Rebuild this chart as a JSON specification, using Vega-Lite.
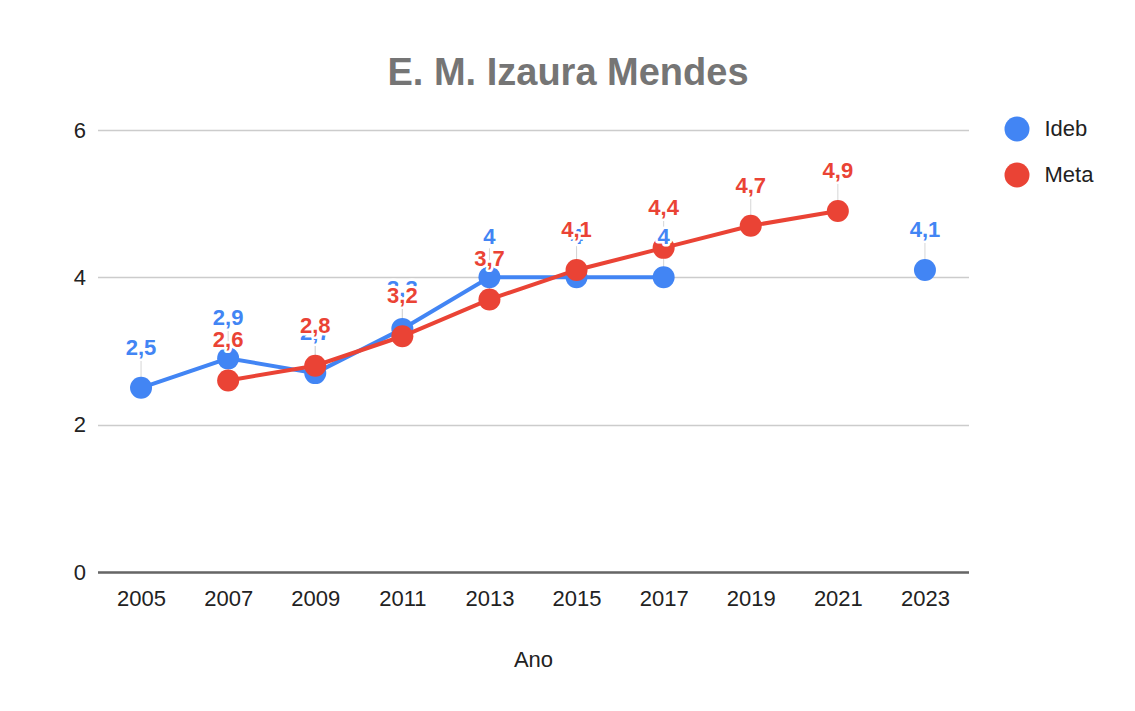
{
  "$schema": "https://vega.github.io/schema/vega-lite/v6.json",
  "width": 871,
  "height": 442,
  "autosize": {"type": "none"},
  "padding": {"left": 97.5, "top": 130, "right": 166.5, "bottom": 139},
  "background": "white",
  "title": {
    "text": "E. M. Izaura Mendes",
    "fontSize": 38,
    "fontWeight": "bold",
    "color": "#757575",
    "anchor": "middle",
    "frame": "group",
    "baseline": "alphabetic",
    "dx": 35,
    "offset": -6
  },
  "config": {
    "font": "Liberation Sans",
    "view": {"stroke": null},
    "locale": {
      "number": {"decimal": ",", "thousands": ".", "grouping": [3], "currency": ["R$", ""]}
    }
  },
  "data": {
    "values": [
      {"ano": "2005", "serie": "Ideb", "valor": 2.5},
      {"ano": "2007", "serie": "Ideb", "valor": 2.9},
      {"ano": "2009", "serie": "Ideb", "valor": 2.7},
      {"ano": "2011", "serie": "Ideb", "valor": 3.3},
      {"ano": "2013", "serie": "Ideb", "valor": 4},
      {"ano": "2015", "serie": "Ideb", "valor": 4},
      {"ano": "2017", "serie": "Ideb", "valor": 4},
      {"ano": "2019", "serie": "Ideb", "valor": null},
      {"ano": "2021", "serie": "Ideb", "valor": null},
      {"ano": "2023", "serie": "Ideb", "valor": 4.1},
      {"ano": "2007", "serie": "Meta", "valor": 2.6},
      {"ano": "2009", "serie": "Meta", "valor": 2.8},
      {"ano": "2011", "serie": "Meta", "valor": 3.2},
      {"ano": "2013", "serie": "Meta", "valor": 3.7},
      {"ano": "2015", "serie": "Meta", "valor": 4.1},
      {"ano": "2017", "serie": "Meta", "valor": 4.4},
      {"ano": "2019", "serie": "Meta", "valor": 4.7},
      {"ano": "2021", "serie": "Meta", "valor": 4.9}
    ]
  },
  "encoding": {
    "x": {
      "field": "ano",
      "type": "ordinal",
      "title": "Ano",
      "scale": {
        "type": "point",
        "padding": 0.5,
        "domain": ["2005", "2007", "2009", "2011", "2013", "2015", "2017", "2019", "2021", "2023"]
      },
      "axis": {
        "labelAngle": 0,
        "labelFontSize": 22,
        "labelColor": "#222222",
        "labelPadding": 16,
        "ticks": false,
        "domain": true,
        "domainColor": "#666666",
        "domainWidth": 2.5,
        "grid": false,
        "titleFontSize": 22,
        "titleFontWeight": "normal",
        "titleColor": "#222222",
        "titlePadding": 40
      }
    },
    "y": {
      "field": "valor",
      "type": "quantitative",
      "title": null,
      "scale": {"domain": [0, 6], "nice": false, "zero": true},
      "axis": {
        "values": [0, 2, 4, 6],
        "format": "d",
        "labelFontSize": 22,
        "labelColor": "#222222",
        "labelPadding": 12,
        "ticks": false,
        "domain": false,
        "grid": true,
        "gridColor": "#cccccc",
        "gridWidth": 1.5
      }
    },
    "color": {
      "field": "serie",
      "type": "nominal",
      "scale": {"domain": ["Ideb", "Meta"], "range": ["#4285F4", "#EA4335"]},
      "legend": {
        "title": null,
        "orient": "none",
        "legendX": 907,
        "legendY": -13.5,
        "labelFontSize": 22,
        "labelColor": "#222222",
        "symbolType": "circle",
        "symbolSize": 625,
        "symbolOpacity": 1,
        "symbolStrokeWidth": 0,
        "symbolFillColor": null,
        "rowPadding": 21,
        "labelOffset": 15,
        "padding": 0
      }
    }
  },
  "layer": [
    {
      "mark": {"type": "rule", "y2Offset": -29, "strokeWidth": 1},
      "encoding": {
        "y2": {"field": "valor"},
        "color": {"value": "#d6d6d6"}
      }
    },
    {
      "transform": [{"filter": "datum.serie === 'Ideb'"}],
      "mark": {"type": "line", "strokeWidth": 4, "invalid": "break-paths-show-domains"}
    },
    {
      "transform": [{"filter": "datum.serie === 'Ideb'"}],
      "mark": {"type": "circle", "size": 484, "opacity": 1}
    },
    {
      "transform": [{"filter": "datum.serie === 'Meta'"}],
      "mark": {"type": "line", "strokeWidth": 4}
    },
    {
      "transform": [{"filter": "datum.serie === 'Meta'"}],
      "mark": {"type": "circle", "size": 484, "opacity": 1}
    },
    {
      "transform": [{"filter": "datum.serie === 'Ideb'"}],
      "mark": {"type": "text", "dy": -33, "baseline": "alphabetic", "fontSize": 22, "fontWeight": "bold", "stroke": "white", "strokeWidth": 5, "strokeJoin": "round"},
      "encoding": {
        "text": {"field": "valor", "type": "quantitative", "format": ".2~r"},
        "color": {"value": "white"}
      }
    },
    {
      "transform": [{"filter": "datum.serie === 'Ideb'"}],
      "mark": {"type": "text", "dy": -33, "baseline": "alphabetic", "fontSize": 22, "fontWeight": "bold"},
      "encoding": {
        "text": {"field": "valor", "type": "quantitative", "format": ".2~r"}
      }
    },
    {
      "transform": [{"filter": "datum.serie === 'Meta'"}],
      "mark": {"type": "text", "dy": -33, "baseline": "alphabetic", "fontSize": 22, "fontWeight": "bold", "stroke": "white", "strokeWidth": 5, "strokeJoin": "round"},
      "encoding": {
        "text": {"field": "valor", "type": "quantitative", "format": ".2~r"},
        "color": {"value": "white"}
      }
    },
    {
      "transform": [{"filter": "datum.serie === 'Meta'"}],
      "mark": {"type": "text", "dy": -33, "baseline": "alphabetic", "fontSize": 22, "fontWeight": "bold"},
      "encoding": {
        "text": {"field": "valor", "type": "quantitative", "format": ".2~r"}
      }
    }
  ]
}
